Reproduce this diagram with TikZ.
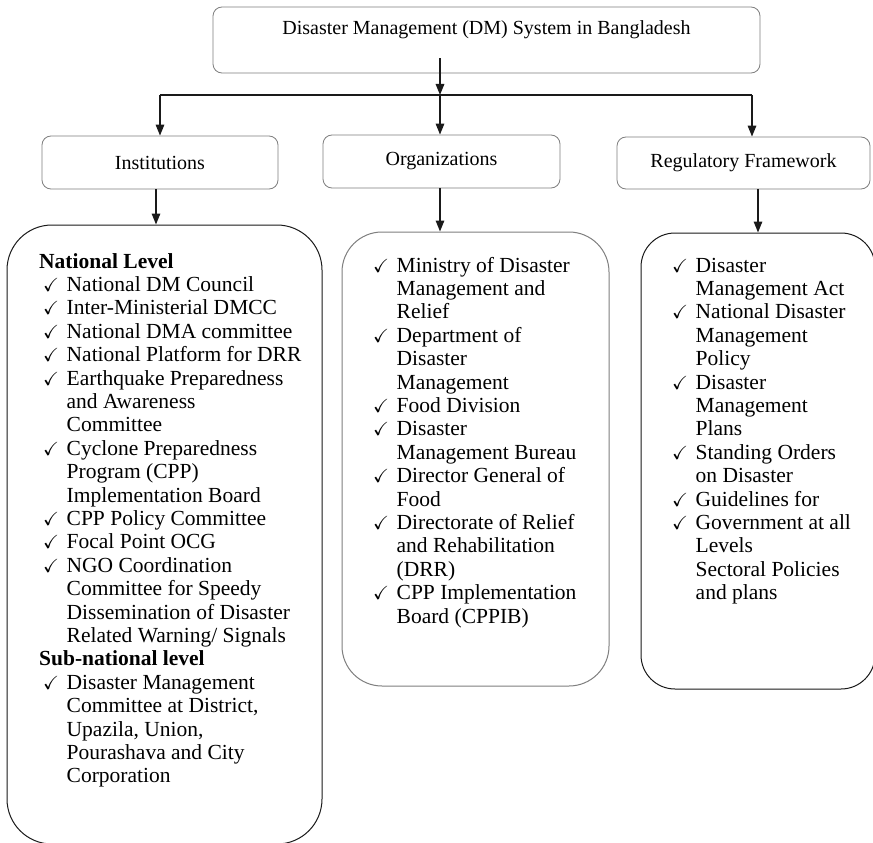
\documentclass[tikz,border=0pt]{standalone}
\usepackage{amssymb}
\usepackage{fontspec}
\setmainfont{Liberation Serif}
\usetikzlibrary{arrows.meta,calc}
\definecolor{Frame}{HTML}{7F7F7F}
\definecolor{Ink}{HTML}{1A1A1A}
\newcommand{\tk}{\makebox[23.5pt][l]{\fontsize{19}{19}\selectfont$\checkmark$}}
\newcommand{\listfont}{\fontsize{21.5}{23.4}\selectfont}
\tikzset{
  headbox/.style={draw=Frame,fill=white,line width=.8pt,rounded corners=9pt,align=center,font=\fontsize{20}{24}\selectfont,inner sep=0pt},
  listbox/.style={draw=Ink,line width=1pt,inner sep=0pt},
  listtext/.style={anchor=base west,inner sep=0pt,font=\listfont},
  flow/.style={-{Triangle[length=11pt,width=8.5pt]},draw=Ink,line width=1.5pt},
  busline/.style={draw=Ink,line width=2.2pt}
}
\begin{document}
\begin{tikzpicture}[x=1pt,y=-1pt]
  \fill[white] (0,0) rectangle (873,843);
  \useasboundingbox (0,0) rectangle (873,843);
  % heading and the three branches
  \node[headbox,minimum width=547pt,text height=22pt,text depth=32pt,inner ysep=6pt] (dm) at (486.5,40) {Disaster Management (DM) System in Bangladesh};
  \node[headbox,minimum width=236pt,minimum height=53pt] (inst) at (160,162.5) {Institutions};
  \node[headbox,minimum width=237pt,minimum height=53pt] (org) at (441.5,161.5) {Organizations};
  \node[headbox,minimum width=253pt,minimum height=52pt] (reg) at (743.5,163) {Regulatory Framework};
  % list frames
  \node[listbox,rounded corners=45pt,minimum width=315pt,minimum height=619pt] (lvl) at (164.5,534.5) {};
  \node[listbox,draw=Frame,rounded corners=40pt,minimum width=267pt,minimum height=454pt] (orgs) at (475.5,459) {};
  \node[listbox,rounded corners=34pt,minimum width=234pt,minimum height=456pt] (acts) at (758,461) {};
  % list contents
  \node[listtext] (lvltxt) at (39,268) {\begin{tabular}[t]{@{\hspace{4pt}}l@{}l@{}}
    \multicolumn{2}{@{}l@{}}{\textbf{National Level}}\\
    \tk & National DM Council\\
    \tk & Inter-Ministerial DMCC\\
    \tk & National DMA committee\\
    \tk & National Platform for DRR\\
    \tk & Earthquake Preparedness\\
        & and Awareness\\
        & Committee\\
    \tk & Cyclone Preparedness\\
        & Program (CPP)\\
        & Implementation Board\\
    \tk & CPP Policy Committee\\
    \tk & Focal Point OCG\\
    \tk & NGO Coordination\\
        & Committee for Speedy\\
        & Dissemination of Disaster\\
        & Related Warning/ Signals\\
    \multicolumn{2}{@{}l@{}}{\textbf{Sub-national level}}\\
    \tk & Disaster Management\\
        & Committee at District,\\
        & Upazila, Union,\\
        & Pourashava and City\\
        & Corporation
  \end{tabular}};
  \node[listtext] (orgstxt) at (369,272) {\begin{tabular}[t]{@{\hspace{4pt}}l@{}l@{}}
    \tk & Ministry of Disaster\\
        & Management and\\
        & Relief\\
    \tk & Department of\\
        & Disaster\\
        & Management\\
    \tk & Food Division\\
    \tk & Disaster\\
        & Management Bureau\\
    \tk & Director General of\\
        & Food\\
    \tk & Directorate of Relief\\
        & and Rehabilitation\\
        & (DRR)\\
    \tk & CPP Implementation\\
        & Board (CPPIB)
  \end{tabular}};
  \node[listtext] (actstxt) at (668,272) {\begin{tabular}[t]{@{\hspace{4pt}}l@{}l@{}}
    \tk & Disaster\\
        & Management Act\\
    \tk & National Disaster\\
        & Management\\
        & Policy\\
    \tk & Disaster\\
        & Management\\
        & Plans\\
    \tk & Standing Orders\\
        & on Disaster\\
    \tk & Guidelines for\\
    \tk & Government at all\\
        & Levels\\
        & Sectoral Policies\\
        & and plans
  \end{tabular}};
  % connectors
  \coordinate (hub) at (440,95);
  \coordinate (busL) at (160,95);
  \coordinate (busR) at (752,95);
  \draw[busline] (busL) -- (busR);
  \draw[flow] ($(dm.south -| hub)+(0,-15)$) -- (hub);
  \draw[flow] (busL) -- (inst.north);
  \draw[flow] (hub) -- (hub |- org.north);
  \draw[flow] (busR) -- (busR |- reg.north);
  \draw[flow] ([xshift=-4pt]inst.south) -- ([xshift=-4pt]inst.south |- lvl.north);
  \draw[flow] (hub |- org.south) -- (hub |- orgs.north);
  \draw[flow] (acts.north |- reg.south) -- (acts.north);
\end{tikzpicture}
\end{document}
